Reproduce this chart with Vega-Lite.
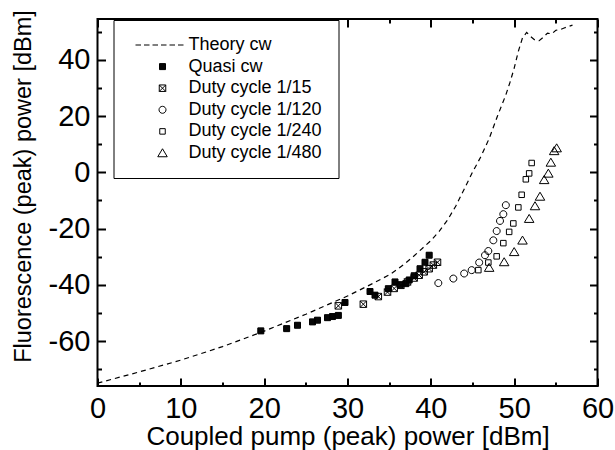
{
  "$schema": "https://vega.github.io/schema/vega-lite/v6.json",
  "width": 500,
  "height": 367,
  "autosize": "none",
  "padding": {"left": 97.5, "top": 19, "right": 17.5, "bottom": 64},
  "background": "white",
  "view": {"stroke": "black", "strokeWidth": 2},
  "config": {
    "axis": {
      "domain": false, "grid": false, "tickColor": "black", "tickWidth": 2,
      "labelFont": "Liberation Sans", "labelFontSize": 29, "labelColor": "black",
      "titleFont": "Liberation Sans", "titleFontSize": 26, "titleFontWeight": "normal", "titleColor": "black",
      "labelFlush": false, "labelOverlap": false, "labelBound": false
    },
    "legend": {
      "orient": "none", "legendX": 16, "legendY": 1,
      "strokeColor": "black", "strokeWidth": 1, "fillColor": "white",
      "padding": 16, "labelFont": "Liberation Sans", "labelFontSize": 18, "labelColor": "black",
      "symbolSize": 100, "symbolStrokeColor": "black", "symbolStrokeWidth": 1,
      "rowPadding": 3.6, "symbolOffset": 24, "labelOffset": 17, "labelLimit": 300
    }
  },
  "datasets": {
    "theory": [
      {"x": 0, "y": -75}, {"x": 5, "y": -71}, {"x": 10, "y": -66.8}, {"x": 15, "y": -62},
      {"x": 20, "y": -56.5}, {"x": 25, "y": -50.5}, {"x": 30, "y": -44}, {"x": 33, "y": -39.6},
      {"x": 35, "y": -36.5}, {"x": 36, "y": -34.5}, {"x": 37, "y": -32.2}, {"x": 38, "y": -29.7},
      {"x": 39, "y": -27}, {"x": 40, "y": -24.3}, {"x": 41, "y": -21}, {"x": 42, "y": -17},
      {"x": 43, "y": -12}, {"x": 44, "y": -6}, {"x": 45, "y": 0}, {"x": 46, "y": 5.5},
      {"x": 47, "y": 12}, {"x": 48, "y": 20}, {"x": 49, "y": 27.5}, {"x": 49.5, "y": 32},
      {"x": 50, "y": 37}, {"x": 50.5, "y": 43}, {"x": 51, "y": 47.8}, {"x": 51.5, "y": 49.7},
      {"x": 52, "y": 48.2}, {"x": 52.5, "y": 47}, {"x": 53, "y": 46.8}, {"x": 53.5, "y": 48},
      {"x": 54, "y": 49.5}, {"x": 54.5, "y": 49.2}, {"x": 55, "y": 50.5}, {"x": 55.5, "y": 50.7},
      {"x": 56, "y": 51.3}, {"x": 56.5, "y": 51.8}, {"x": 57, "y": 52.3}
    ],
    "meas": [
      {"series": "Quasi cw", "x": 19.6, "y": -56.4},
      {"series": "Quasi cw", "x": 22.7, "y": -55.6},
      {"series": "Quasi cw", "x": 24.0, "y": -54.4},
      {"series": "Quasi cw", "x": 25.8, "y": -53.2},
      {"series": "Quasi cw", "x": 26.4, "y": -52.6},
      {"series": "Quasi cw", "x": 27.6, "y": -51.7},
      {"series": "Quasi cw", "x": 28.2, "y": -51.3},
      {"series": "Quasi cw", "x": 28.9, "y": -50.9},
      {"series": "Quasi cw", "x": 29.7, "y": -46.3},
      {"series": "Quasi cw", "x": 32.7, "y": -42.4},
      {"series": "Quasi cw", "x": 33.3, "y": -43.7},
      {"series": "Quasi cw", "x": 34.9, "y": -41.4},
      {"series": "Quasi cw", "x": 35.7, "y": -39.0},
      {"series": "Quasi cw", "x": 36.3, "y": -40.0},
      {"series": "Quasi cw", "x": 37.0, "y": -39.6},
      {"series": "Quasi cw", "x": 37.4, "y": -38.3},
      {"series": "Quasi cw", "x": 38.0, "y": -36.8},
      {"series": "Quasi cw", "x": 38.7, "y": -34.3},
      {"series": "Quasi cw", "x": 39.3, "y": -32.0},
      {"series": "Quasi cw", "x": 39.8, "y": -29.5},
      {"series": "Duty cycle 1/15", "x": 28.9, "y": -47.5},
      {"series": "Duty cycle 1/15", "x": 31.9, "y": -46.9},
      {"series": "Duty cycle 1/15", "x": 33.7, "y": -44.2},
      {"series": "Duty cycle 1/15", "x": 34.8, "y": -42.6},
      {"series": "Duty cycle 1/15", "x": 35.6, "y": -41.3},
      {"series": "Duty cycle 1/15", "x": 36.4, "y": -40.2},
      {"series": "Duty cycle 1/15", "x": 37.2, "y": -39.0},
      {"series": "Duty cycle 1/15", "x": 38.0, "y": -37.6},
      {"series": "Duty cycle 1/15", "x": 38.6, "y": -36.6},
      {"series": "Duty cycle 1/15", "x": 39.2, "y": -35.4},
      {"series": "Duty cycle 1/15", "x": 39.8, "y": -34.3},
      {"series": "Duty cycle 1/15", "x": 40.3, "y": -33.0},
      {"series": "Duty cycle 1/15", "x": 40.8, "y": -32.0},
      {"series": "Duty cycle 1/120", "x": 40.9, "y": -39.4},
      {"series": "Duty cycle 1/120", "x": 42.7, "y": -37.8},
      {"series": "Duty cycle 1/120", "x": 44.0, "y": -36.0},
      {"series": "Duty cycle 1/120", "x": 44.9, "y": -34.8},
      {"series": "Duty cycle 1/120", "x": 45.8, "y": -32.1},
      {"series": "Duty cycle 1/120", "x": 46.5, "y": -29.5},
      {"series": "Duty cycle 1/120", "x": 46.9, "y": -28.0},
      {"series": "Duty cycle 1/120", "x": 47.5, "y": -24.2},
      {"series": "Duty cycle 1/120", "x": 47.9, "y": -20.9},
      {"series": "Duty cycle 1/120", "x": 48.3, "y": -17.3},
      {"series": "Duty cycle 1/120", "x": 48.7, "y": -14.9},
      {"series": "Duty cycle 1/120", "x": 49.0, "y": -11.7},
      {"series": "Duty cycle 1/240", "x": 45.7, "y": -34.8},
      {"series": "Duty cycle 1/240", "x": 46.9, "y": -32.1},
      {"series": "Duty cycle 1/240", "x": 47.9, "y": -29.9},
      {"series": "Duty cycle 1/240", "x": 48.7, "y": -25.2},
      {"series": "Duty cycle 1/240", "x": 49.4, "y": -21.2},
      {"series": "Duty cycle 1/240", "x": 49.9, "y": -18.2},
      {"series": "Duty cycle 1/240", "x": 50.5, "y": -12.5},
      {"series": "Duty cycle 1/240", "x": 50.9, "y": -8.0},
      {"series": "Duty cycle 1/240", "x": 51.4, "y": -2.5},
      {"series": "Duty cycle 1/240", "x": 51.8, "y": -0.4},
      {"series": "Duty cycle 1/240", "x": 52.1, "y": 3.3},
      {"series": "Duty cycle 1/480", "x": 47.0, "y": -33.9},
      {"series": "Duty cycle 1/480", "x": 48.8, "y": -31.9},
      {"series": "Duty cycle 1/480", "x": 50.0, "y": -28.3},
      {"series": "Duty cycle 1/480", "x": 51.0, "y": -24.2},
      {"series": "Duty cycle 1/480", "x": 51.8, "y": -16.5},
      {"series": "Duty cycle 1/480", "x": 52.5, "y": -12.0},
      {"series": "Duty cycle 1/480", "x": 53.1, "y": -8.6},
      {"series": "Duty cycle 1/480", "x": 53.6, "y": -2.7},
      {"series": "Duty cycle 1/480", "x": 54.1, "y": -0.4},
      {"series": "Duty cycle 1/480", "x": 54.4, "y": 3.5},
      {"series": "Duty cycle 1/480", "x": 54.8, "y": 7.6},
      {"series": "Duty cycle 1/480", "x": 55.1, "y": 8.6}
    ]
  },
  "layer": [
    {
      "data": {"name": "theory"},
      "mark": {"type": "line", "stroke": "black", "strokeWidth": 1.2, "strokeDash": [5, 4]},
      "encoding": {
        "x": {
          "field": "x", "type": "quantitative",
          "scale": {"domain": [0, 60], "nice": false, "zero": false},
          "axis": {
            "orient": "bottom", "title": "Coupled pump (peak) power [dBm]",
            "values": [0, 5, 10, 15, 20, 25, 30, 35, 40, 45, 50, 55, 60],
            "tickSize": {"condition": {"test": "datum.value % 10 !== 0", "value": -4}, "value": -8},
            "labelPadding": 16, "titlePadding": -4,
            "labelExpr": "datum.value % 10 === 0 ? '' + datum.value : ''"
          }
        },
        "y": {
          "field": "y", "type": "quantitative",
          "scale": {"domain": [-76, 54.5], "nice": false, "zero": false},
          "axis": {
            "orient": "left", "title": "Fluorescence (peak) power [dBm]",
            "values": [-70, -60, -50, -40, -30, -20, -10, 0, 10, 20, 30, 40, 50],
            "tickSize": {"condition": {"test": "datum.value % 20 !== 0", "value": -4}, "value": -8},
            "labelPadding": 15.5,
            "labelExpr": "datum.value % 20 === 0 ? '' + datum.value : ''",
            "titleFontSize": 23.5,
            "titleX": -67, "titleY": 167, "titleBaseline": "alphabetic", "titleAngle": -90
          }
        }
      }
    },
    {
      "data": {"name": "meas"},
      "mark": {"type": "point", "filled": false, "color": "black", "strokeWidth": 1, "size": 100, "opacity": 1},
      "encoding": {
        "x": {
          "field": "x", "type": "quantitative",
          "axis": {
            "orient": "top", "title": null, "labels": false,
            "values": [0, 5, 10, 15, 20, 25, 30, 35, 40, 45, 50, 55, 60],
            "tickSize": {"condition": {"test": "datum.value % 10 !== 0", "value": -4}, "value": -8}
          }
        },
        "y": {
          "field": "y", "type": "quantitative",
          "axis": {
            "orient": "right", "title": null, "labels": false,
            "values": [-70, -60, -50, -40, -30, -20, -10, 0, 10, 20, 30, 40, 50],
            "tickSize": {"condition": {"test": "datum.value % 20 !== 0", "value": -4}, "value": -8}
          }
        },
        "shape": {
          "field": "series", "type": "nominal",
          "scale": {
            "domain": ["Theory cw", "Quasi cw", "Duty cycle 1/15", "Duty cycle 1/120", "Duty cycle 1/240", "Duty cycle 1/480"],
            "range": [
              "M-5.4,0H-4.3M-3.7,0H-2.6M-2,0H-0.9M-0.3,0H0.8M1.4,0H2.5M3.1,0H4.2",
              "M-0.6,-0.6H0.6V0.6H-0.6ZM-0.6,-0.5H0.6M-0.6,-0.4H0.6M-0.6,-0.3H0.6M-0.6,-0.2H0.6M-0.6,-0.1H0.6M-0.6,0H0.6M-0.6,0.1H0.6M-0.6,0.2H0.6M-0.6,0.3H0.6M-0.6,0.4H0.6M-0.6,0.5H0.6",
              "M-0.65,-0.65H0.65V0.65H-0.65ZM-0.65,-0.65L0.65,0.65M0.65,-0.65L-0.65,0.65",
              "M0.7,0A0.7,0.7,0,1,1,-0.7,0A0.7,0.7,0,1,1,0.7,0Z",
              "M-0.55,-0.55H0.55V0.55H-0.55Z",
              "M0,-0.85L0.95,0.75L-0.95,0.75Z"
            ]
          },
          "legend": {"title": null}
        }
      }
    }
  ],
  "resolve": {"axis": {"x": "independent", "y": "independent"}}
}
